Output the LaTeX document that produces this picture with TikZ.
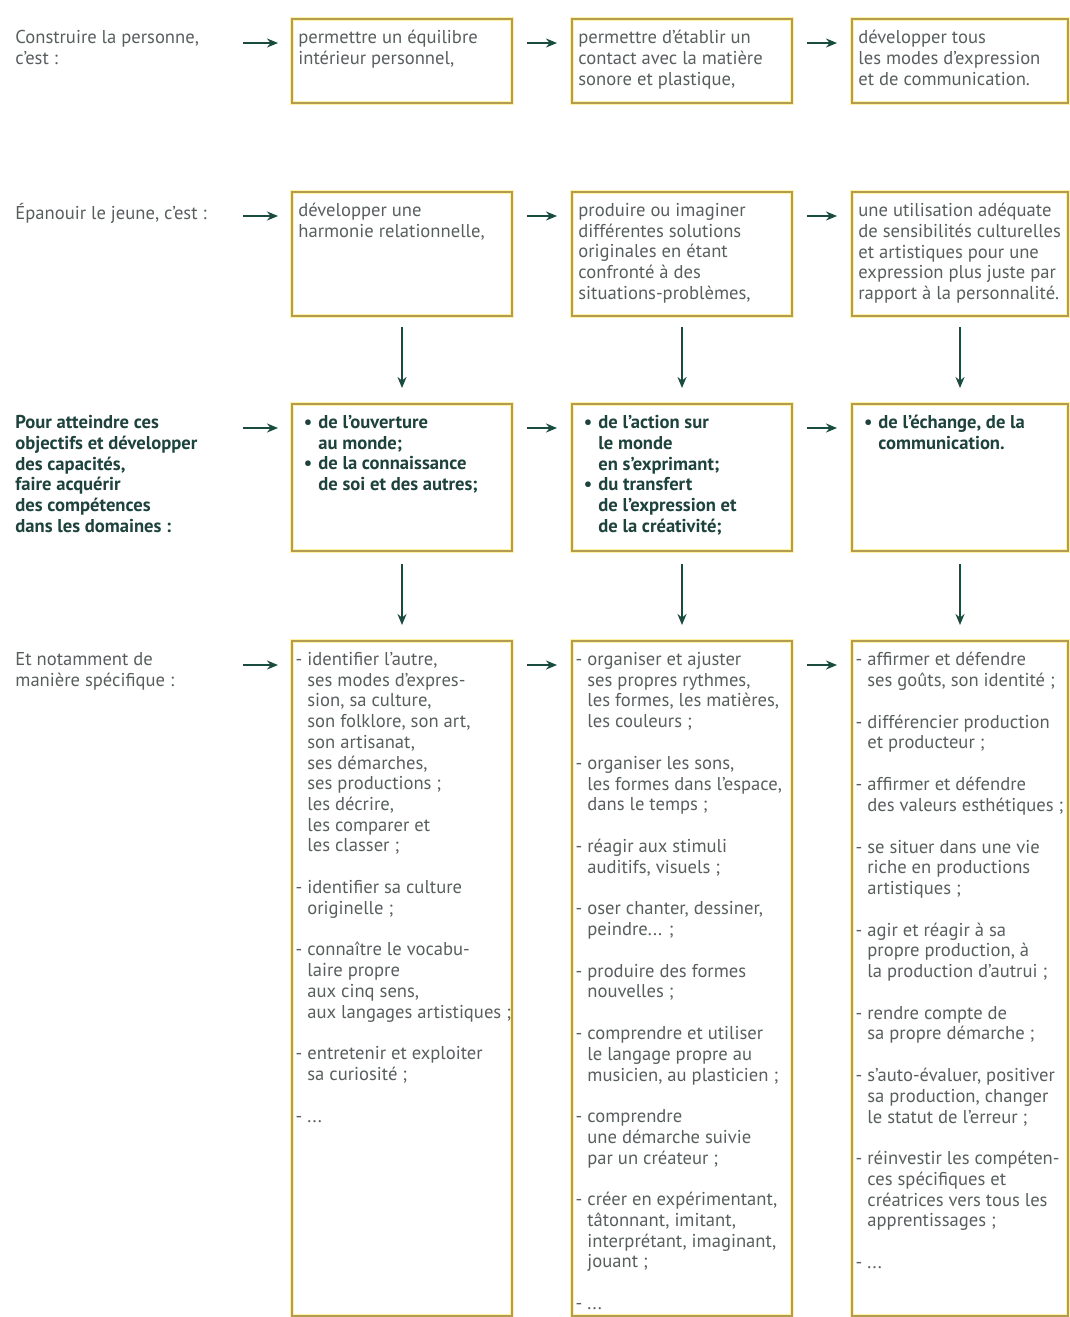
\documentclass[tikz,border=0pt]{standalone}
\usepackage{fontspec}
\setmainfont{PT Sans}
\usetikzlibrary{arrows.meta,calc}
\definecolor{textgray}{RGB}{88,94,94}
\definecolor{boldteal}{RGB}{30,66,60}
\definecolor{arrowgreen}{RGB}{25,75,62}
\definecolor{boxgold}{RGB}{180,155,82}
\definecolor{boxglow}{RGB}{255,242,160}
\newcommand{\cellfont}{\fontsize{9.3}{10.35}\selectfont}
\newcommand{\itm}{\leavevmode\llap{-\hspace{2.5pt}}}
\newcommand{\bul}{\leavevmode\llap{\textbullet\hspace{3pt}}}
\newcommand{\gap}{\\[10.5pt]}
\newcommand{\drawcell}[7]{
	\node[cellbox, minimum width=#4*0.5pt, minimum height=#5*0.5pt] (#1) at (#2,#3) {};
	\node[celltext] (#1t) at ([shift={(#6,12)}]#1.north west) {#7};
	\coordinate (#1a) at ([yshift=-6.5pt]#1t.north west);
}
\tikzset{
	cellbox/.style={draw=boxgold, line width=1pt, anchor=north west, inner sep=0pt,
		preaction={draw=boxglow, line width=2.2pt}},
	celltext/.style={anchor=north west, inner sep=0pt, align=left, font=\cellfont,
		text=textgray, execute at begin node=\strut},
	labeltext/.style={celltext},
	link/.style={draw=arrowgreen, line width=1.2pt, -{Stealth[length=5.5pt,width=4.5pt]}}
}
\begin{document}
\begin{tikzpicture}[x=0.5pt,y=-0.5pt]
	\useasboundingbox (0,0) rectangle (1070,1317);
	\coordinate (lane) at (243,0);
	
	% left column
	\node[labeltext] (l1) at (15,30) {Construire la personne,\\c’est :};
	\node[labeltext] (l2) at (15,203) {Épanouir le jeune, c’est :};
	\node[labeltext, font=\cellfont\bfseries, text=boldteal] (l3) at (15,415) {Pour atteindre ces\\objectifs et développer\\des capacités,\\faire acquérir\\des compétences\\dans les domaines :};
	\node[labeltext] (l4) at (15,652) {Et notamment de\\manière spécifique :};
	
	% row 1
	\drawcell{b11}{291}{18}{220}{84}{7}{permettre un équilibre\\intérieur personnel,}
	\drawcell{b12}{571}{18}{220}{84}{7}{permettre d’établir un\\contact avec la matière\\sonore et plastique,}
	\drawcell{b13}{851}{18}{216}{84}{7}{développer tous\\les modes d’expression\\et de communication.}
	
	% row 2
	\drawcell{b21}{291}{191}{220}{124}{7}{développer une\\harmonie relationnelle,}
	\drawcell{b22}{571}{191}{220}{124}{7}{produire ou imaginer\\différentes solutions\\originales en étant\\confronté à des\\situations-problèmes,}
	\drawcell{b23}{851}{191}{216}{124}{7}{une utilisation adéquate\\de sensibilités culturelles\\et artistiques pour une\\expression plus juste par\\rapport à la personnalité.}
	
	% row 3
	\tikzset{celltext/.append style={font=\cellfont\bfseries, text=boldteal}}
	\drawcell{b31}{291}{403}{220}{147}{27}{\bul de l’ouverture\\au monde;\\\bul de la connaissance\\de soi et des autres;}
	\drawcell{b32}{571}{403}{220}{147}{27}{\bul de l’action sur\\le monde\\en s’exprimant;\\\bul du transfert\\de l’expression et\\de la créativité;}
	\drawcell{b33}{851}{403}{216}{147}{27}{\bul de l’échange, de la\\communication.}
	\tikzset{celltext/.append style={font=\cellfont, text=textgray}}
	
	% row 4
	\drawcell{b41}{291}{640}{220}{675}{16}{\itm identifier l’autre,\\ses modes d’expres-\\sion, sa culture,\\son folklore, son art,\\son artisanat,\\ses démarches,\\ses productions ;\\les décrire,\\les comparer et\\les classer ;\gap
		\itm identifier sa culture\\originelle ;\gap
		\itm connaître le vocabu-\\laire propre\\aux cinq sens,\\aux langages artistiques ;\gap
		\itm entretenir et exploiter\\sa curiosité ;\gap
		\itm ...}
	\drawcell{b42}{571}{640}{220}{675}{16}{\itm organiser et ajuster\\ses propres rythmes,\\les formes, les matières,\\les couleurs ;\gap
		\itm organiser les sons,\\les formes dans l’espace,\\dans le temps ;\gap
		\itm réagir aux stimuli\\auditifs, visuels ;\gap
		\itm oser chanter, dessiner,\\peindre... ;\gap
		\itm produire des formes\\nouvelles ;\gap
		\itm comprendre et utiliser\\le langage propre au\\musicien, au plasticien ;\gap
		\itm comprendre\\une démarche suivie\\par un créateur ;\gap
		\itm créer en expérimentant,\\tâtonnant, imitant,\\interprétant, imaginant,\\jouant ;\gap
		\itm ...}
	\drawcell{b43}{851}{640}{216}{675}{16}{\itm affirmer et défendre\\ses goûts, son identité ;\gap
		\itm différencier production\\et producteur ;\gap
		\itm affirmer et défendre\\des valeurs esthétiques ;\gap
		\itm se situer dans une vie\\riche en productions\\artistiques ;\gap
		\itm agir et réagir à sa\\propre production, à\\la production d’autrui ;\gap
		\itm rendre compte de\\sa propre démarche ;\gap
		\itm s’auto-évaluer, positiver\\sa production, changer\\le statut de l’erreur ;\gap
		\itm réinvestir les compéten-\\ces spécifiques et\\créatrices vers tous les\\apprentissages ;\gap
		\itm ...}
	
	% arrows
	\foreach \r in {1,2,3,4} {
		\draw[link, shorten >=6.5pt] (lane |- b\r1a) -- (b\r1.west |- b\r1a);
		\draw[link, shorten <=7pt, shorten >=7pt] (b\r1.east |- b\r2a) -- (b\r2.west |- b\r2a);
		\draw[link, shorten <=7pt, shorten >=7pt] (b\r2.east |- b\r3a) -- (b\r3.west |- b\r3a);
	}
	\foreach \c in {1,2,3} {
		\draw[link, shorten <=5pt, shorten >=7.5pt] (b2\c.south) -- (b3\c.north);
		\draw[link, shorten <=6pt, shorten >=7.5pt] (b3\c.south) -- (b4\c.north);
	}
\end{tikzpicture}
\end{document}
